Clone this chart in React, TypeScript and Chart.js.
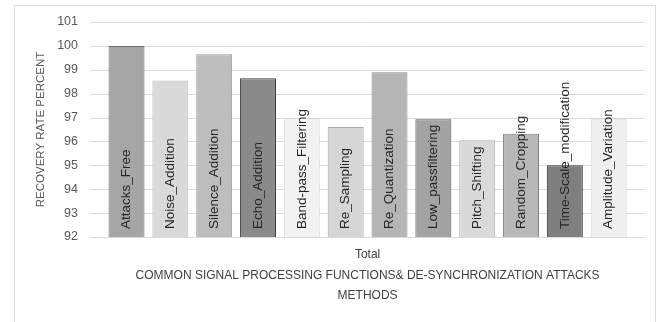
import React, { useEffect, useRef } from "react";
import { Chart, registerables } from "chart.js";

Chart.register(...registerables);

const categories = [
  "Attacks_Free",
  "Noise_Addition",
  "Silence_Addition",
  "Echo_Addition",
  "Band-pass_Filtering",
  "Re_Sampling",
  "Re_Quantization",
  "Low_passfiltering",
  "Pitch_Shifting",
  "Random_Cropping",
  "Time-Scale_modification",
  "Amplitude_Variation",
];

const recoveryRate = [100, 98.55, 99.65, 98.65, 96.98, 96.6, 98.9, 96.93, 96.05, 96.32, 95.0, 96.93];

const fillColors = [
  "#a6a6a6", "#d9d9d9", "#bdbdbd", "#8a8a8a", "#f2f2f2", "#d6d6d6",
  "#b5b5b5", "#a3a3a3", "#dadada", "#b8b8b8", "#7f7f7f", "#efefef",
];
const borderColors = [
  "#6b6b6b", "#bdbdbd", "#9a9a9a", "#3f3f3f", "#d8d8d8", "#a8a8a8",
  "#8a8a8a", "#5a5a5a", "#b0b0b0", "#7f7f7f", "#3a3a3a", "#d6d6d6",
];

const yMin = 92;
const yMax = 101;
const yTitle = "RECOVERY RATE PERCENT";
const xTitleLines = [
  "Total",
  "COMMON SIGNAL PROCESSING FUNCTIONS& DE-SYNCHRONIZATION ATTACKS",
  "METHODS",
];

const FONT = "'Liberation Sans', Arial, sans-serif";

const framePlugin = {
  id: "frame",
  beforeDraw(chart: any) {
    const ctx = chart.ctx;
    ctx.save();
    ctx.fillStyle = "#ffffff";
    ctx.fillRect(0, 0, chart.width, chart.height);
    ctx.strokeStyle = "#d9d9d9";
    ctx.lineWidth = 1;
    ctx.strokeRect(14.5, 5.5, 641, 340);
    ctx.restore();
  },
};

const gridPlugin = {
  id: "extgrid",
  beforeDatasetsDraw(chart: any) {
    const ctx = chart.ctx;
    const y = chart.scales.y;
    const { left, right } = chart.chartArea;
    ctx.save();
    ctx.strokeStyle = "#d9d9d9";
    ctx.lineWidth = 1;
    y.ticks.forEach((t: any) => {
      const py = Math.round(y.getPixelForValue(t.value)) + 0.5;
      ctx.beginPath();
      ctx.moveTo(left - 14, py);
      ctx.lineTo(right + 14, py);
      ctx.stroke();
    });
    ctx.restore();
  },
};

const labelPlugin = {
  id: "barlabels",
  afterDraw(chart: any) {
    const ctx = chart.ctx;
    const xs = chart.scales.x;
    const ys = chart.scales.y;
    const baseY = ys.getPixelForValue(yMin);
    ctx.save();
    ctx.fillStyle = "#262626";
    ctx.font = `13.5px ${FONT}`;
    ctx.textAlign = "left";
    ctx.textBaseline = "middle";
    categories.forEach((label, i) => {
      const px = xs.getPixelForValue(i);
      ctx.save();
      ctx.translate(px, baseY - 8);
      ctx.rotate(-Math.PI / 2);
      ctx.fillText(label, 0, 0);
      ctx.restore();
    });
    ctx.restore();
  },
};

export default function App() {
  const ref = useRef<HTMLCanvasElement>(null);
  useEffect(() => {
    if (!ref.current) return;
    const chart = new Chart(ref.current, {
      type: "bar",
      data: {
        labels: categories,
        datasets: [
          {
            data: recoveryRate,
            backgroundColor: fillColors,
            borderColor: borderColors,
            borderWidth: 1,
            categoryPercentage: 1,
            barPercentage: 0.82,
          },
        ],
      },
      options: {
        animation: false,
        responsive: false,
        devicePixelRatio: 1,
        layout: { padding: { left: 0, right: 30.4, top: 22, bottom: 0 } },
        plugins: { legend: { display: false }, tooltip: { enabled: false } },
        scales: {
          x: {
            grid: { display: false },
            border: { display: false },
            ticks: { display: false },
            afterFit(scale: any) {
              scale.height = 85;
              scale.paddingLeft = 0;
              scale.paddingRight = 0;
            },
            title: {
              display: true,
              text: xTitleLines,
              color: "#404040",
              font: { family: FONT, size: 12, lineHeight: 1.72 },
              padding: { top: 0, bottom: 15.5 },
            },
          },
          y: {
            min: yMin,
            max: yMax,
            grid: { display: false, drawTicks: false },
            border: { display: false },
            ticks: {
              stepSize: 1,
              padding: 26.6,
              color: "#595959",
              font: { family: FONT, size: 12.5 },
            },
            afterFit(scale: any) {
              scale.width = 104.6;
              scale.paddingTop = 0;
              scale.paddingBottom = 0;
            },
            title: {
              display: true,
              text: yTitle,
              color: "#595959",
              font: { family: FONT, size: 11.5 },
              padding: { top: 34, bottom: 0 },
            },
          },
        },
      },
      plugins: [framePlugin, gridPlugin, labelPlugin],
    });
    return () => chart.destroy();
  }, []);
  return (
    <div style={{ position: "absolute", left: 0, top: 0, width: 661, height: 322, background: "#fff" }}>
      <canvas ref={ref} width={661} height={322} />
    </div>
  );
}
